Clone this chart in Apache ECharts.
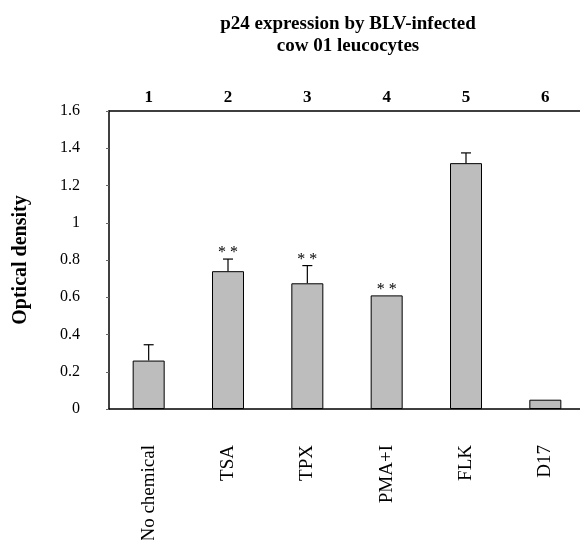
<!DOCTYPE html>
<html lang="en">
<head>
    <meta charset="UTF-8">
    <title>p24 expression</title>
    <style>
        html, body { margin: 0; padding: 0; background: #fff; }
    </style>
</head>
<body>
<div id="main" style="width: 580px;height:540px;"></div>
<script src="https://cdn.jsdelivr.net/npm/echarts@6/dist/echarts.min.js"></script>
<script>
    var categories = ['No chemical', 'TSA', 'TPX', 'PMA+I', 'FLK', 'D17'];
    var laneNumbers = ['1', '2', '3', '4', '5', '6'];
    var density = [0.26, 0.74, 0.675, 0.61, 1.32, 0.05];
    var errorUp = [0.085, 0.065, 0.095, 0, 0.055, 0];
    var stars = ['', '**', '**', '**', '', ''];

    var font = 'Liberation Serif';

    // error bar + stars drawn on top of each bar
    var errData = [];
    for (var i = 0; i < categories.length; i++) {
        errData.push([i, density[i], errorUp[i]]);
    }

    var myChart = echarts.init(document.getElementById('main'));

    var option = {
        animation: false,
        title: {
            text: 'p24 expression by BLV-infected\ncow 01 leucocytes',
            left: 343,
            top: 8,
            textAlign: 'center',
            textStyle: {
                fontFamily: font,
                fontSize: 19,
                fontWeight: 'bold',
                color: '#000',
                lineHeight: 22
            }
        },
        grid: {
            left: 109,
            top: 111,
            width: 476,
            height: 298,
            outerBoundsMode: 'none'
        },
        xAxis: [
            {
                type: 'category',
                data: categories,
                position: 'bottom',
                axisLine: { lineStyle: { color: '#000', width: 1.5 } },
                axisTick: { show: false },
                axisLabel: {
                    rotate: 90,
                    margin: 36,
                    fontFamily: font,
                    fontSize: 19,
                    color: '#000'
                }
            },
            {
                type: 'category',
                data: laneNumbers,
                position: 'top',
                axisLine: { lineStyle: { color: '#000', width: 1.5 } },
                axisTick: { show: false },
                axisLabel: {
                    margin: 5,
                    fontFamily: font,
                    fontSize: 17,
                    fontWeight: 'bold',
                    color: '#000'
                }
            }
        ],
        yAxis: {
            type: 'value',
            min: 0,
            max: 1.6,
            interval: 0.2,
            name: 'Optical density',
            nameLocation: 'middle',
            nameGap: 78,
            nameTextStyle: {
                fontFamily: font,
                fontSize: 20,
                fontWeight: 'bold',
                color: '#000'
            },
            axisLine: { show: true, lineStyle: { color: '#000', width: 1.5 } },
            axisTick: { show: true, length: 3, lineStyle: { color: '#666' } },
            splitLine: { show: false },
            axisLabel: {
                margin: 29,
                fontFamily: font,
                fontSize: 16,
                color: '#000'
            }
        },
        series: [
            {
                name: 'OD',
                type: 'bar',
                data: density,
                barWidth: 32,
                itemStyle: {
                    color: '#bdbdbd',
                    borderColor: '#000',
                    borderWidth: 1
                }
            },
            {
                name: 'err',
                type: 'custom',
                data: errData,
                z: 5,
                renderItem: function (params, api) {
                    var idx = api.value(0);
                    var top = api.value(1) + api.value(2);
                    var base = api.coord([idx, api.value(1)]);
                    var hi = api.coord([idx, top]);
                    var children = [];
                    if (api.value(2) > 0) {
                        children.push({
                            type: 'line',
                            shape: { x1: base[0], y1: base[1], x2: hi[0], y2: hi[1] },
                            style: { stroke: '#000', lineWidth: 1.2 }
                        });
                        children.push({
                            type: 'line',
                            shape: { x1: hi[0] - 5, y1: hi[1], x2: hi[0] + 5, y2: hi[1] },
                            style: { stroke: '#000', lineWidth: 1.2 }
                        });
                    }
                    if (stars[idx]) {
                        children.push({
                            type: 'text',
                            style: {
                                text: stars[idx].split('').join(' '),
                                x: hi[0],
                                y: hi[1] + 2,
                                align: 'center',
                                verticalAlign: 'bottom',
                                fontFamily: font,
                                fontSize: 16,
                                fill: '#000'
                            }
                        });
                    }
                    return { type: 'group', children: children };
                }
            }
        ]
    };

    myChart.setOption(option);
</script>
</body>
</html>
